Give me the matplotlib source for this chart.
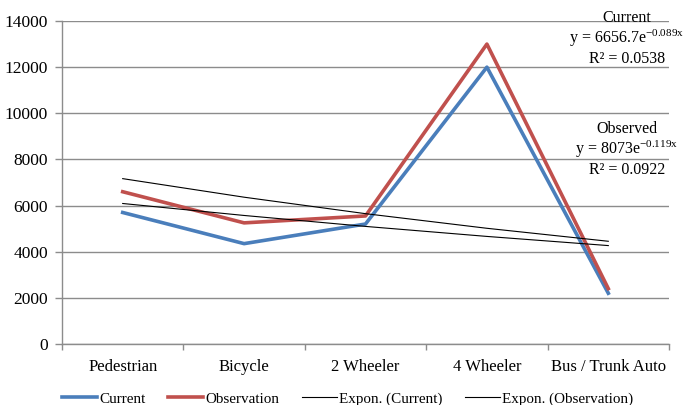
import numpy as np
import matplotlib
matplotlib.use('Agg')
from matplotlib import pyplot as plt

plt.rcParams['font.family'] = ['Liberation Serif', 'DejaVu Serif']
plt.rcParams['mathtext.fontset'] = 'custom'
plt.rcParams['mathtext.rm'] = 'Liberation Serif'
plt.rcParams['mathtext.default'] = 'regular'

categories = ['Pedestrian', 'Bicycle', '2 Wheeler', '4 Wheeler', 'Bus / Trunk Auto']
current = [5700, 4350, 5200, 12000, 2200]
observation = [6600, 5250, 5550, 13000, 2400]

# trendline coefficients as printed on the chart (y = a * exp(b * x), x = 1..n)
current_fit = (6656.7, -0.089)
observed_fit = (8073, -0.119)

x = np.arange(len(categories))
x_trend = x + 1

fig = plt.figure(figsize=(6.85, 4.05), dpi=100)
ax = fig.add_axes([62 / 685, 1 - 344 / 405, (669 - 62) / 685, (344 - 21) / 405])

grid_color = '#8c8c8c'
ax.plot(x, current, color='#4a7ebb', linewidth=2.6, label='Current', zorder=3)
ax.plot(x, observation, color='#c0504d', linewidth=2.6, label='Observation', zorder=3)
ax.plot(x, current_fit[0] * np.exp(current_fit[1] * x_trend), color='black', linewidth=0.8,
        label='Expon. (Current)', zorder=4)
ax.plot(x, observed_fit[0] * np.exp(observed_fit[1] * x_trend), color='black', linewidth=0.8,
        label='Expon. (Observation)', zorder=4)

ax.set_xlim(-0.5, len(categories) - 0.5)
ax.set_ylim(0, 14000)
ax.set_yticks(range(0, 14001, 2000))
ax.set_xticks(x)
ax.set_xticklabels(categories)
ax.set_xticks(np.arange(-0.5, len(categories)), minor=True)
ax.tick_params(axis='x', which='major', length=0, pad=11, labelsize=12)
ax.tick_params(axis='x', which='minor', length=4, color=grid_color, width=1)
ax.tick_params(axis='y', length=5, color=grid_color, width=1, pad=5, labelsize=12.5)
ax.grid(axis='y', color=grid_color, linewidth=1)
ax.set_axisbelow(True)
for side in ['top', 'right']:
    ax.spines[side].set_visible(False)
for side in ['left', 'bottom']:
    ax.spines[side].set_color(grid_color)
    ax.spines[side].set_linewidth(1)

def px(xp, yp):
    return xp / 685, 1 - yp / 405

labels = [
    ('Current', 18), (r'y = 6656.7e$^{-0.089x}$', 38), ('R² = 0.0538', 59),
    ('Observed', 129), (r'y = 8073e$^{-0.119x}$', 149), ('R² = 0.0922', 170),
]
for text, yp in labels:
    fig.text(*px(627, yp), text, ha='center', va='center', fontsize=11.5)

fig.legend(loc='center', bbox_to_anchor=px(348, 399), ncol=4, frameon=False,
           fontsize=10.9, handlelength=2.3, handletextpad=0.15, columnspacing=1.5)

fig.savefig('out.png', dpi=100)
